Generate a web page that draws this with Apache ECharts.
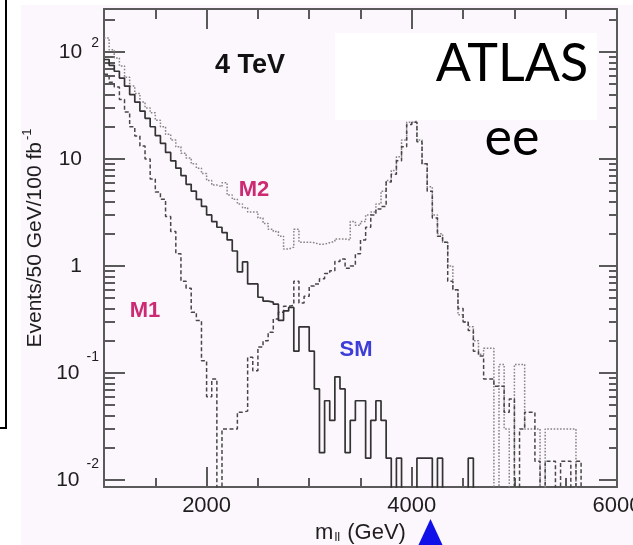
<!DOCTYPE html>
<html lang="en">
<head>
<meta charset="utf-8">
<title>ATLAS ee - 4 TeV</title>
<script src="https://cdn.jsdelivr.net/npm/echarts@6/dist/echarts.min.js"></script>
<style>
  html, body { margin: 0; padding: 0; background: #fff; }
  #main { width: 633px; height: 545px; }
</style>
</head>
<body>
<div id="main"></div>
<script>
// m_ll histogram, 50 GeV bins starting at 1000 GeV (events / 50 GeV / 100 fb^-1)
var binStart = 1000;
var binWidth = 50;

var smValues = [
  85, 75, 66, 57, 48, 40, 34, 28, 24, 20,
  16.5, 14, 11.5, 9.6, 8.2, 7, 5.8, 5, 4.2, 3.6,
  3, 2.6, 2.3, 2.05, 1.75, 1.38, 0.88, 1.09, 0.68, 0.68,
  0.51, 0.47, 0.46, 0.44, 0.31, 0.38, 0.41, 0.16, 0.27, 0.27,
  0.16, 0.071, 0.018, 0.055, 0.036, 0.092, 0.071, 0.018, 0.036, 0.055,
  0.055, 0.016, 0.036, 0.055, 0.036, 0.016, 0, 0.016, 0, 0,
  0, 0.016, 0.016, 0.016, 0, 0.016, 0, 0, 0, 0,
  0, 0.016, 0, 0, 0, 0, 0, 0, 0, 0,
  0, 0, 0, 0, 0, 0, 0, 0, 0, 0,
  0, 0, 0, 0, 0, 0, 0, 0, 0, 0
];

var m1Values = [
  62, 52, 47, 36, 27.5, 20, 16.4, 13.2, 10, 6.5,
  4.9, 4.2, 2.9, 2.1, 1.3, 0.72, 0.62, 0.37, 0.31, 0.13,
  0.06, 0.088, 0, 0.03, 0.03, 0.03, 0.043, 0.044, 0.14, 0.105,
  0.175, 0.2, 0.24, 0.32, 0.37, 0.42, 0.43, 0.72, 0.45, 0.52,
  0.65, 0.68, 0.76, 0.85, 0.9, 1.1, 1.16, 0.95, 1.0, 1.3,
  1.75, 2.3, 3.0, 3.4, 3.6, 6.1, 7.2, 9.6, 13, 21,
  22, 14.5, 9, 5, 2.8, 1.9, 1.67, 0.72, 0.6, 0.4,
  0.3, 0.25, 0.16, 0.144, 0.088, 0.088, 0.075, 0.075, 0.043, 0.057,
  0, 0.03, 0.043, 0.043, 0.015, 0, 0.015, 0.015, 0, 0.015,
  0.015, 0, 0.015, 0, 0, 0, 0, 0, 0, 0
];

var m2Values = [
  135, 105, 88, 74, 58, 48, 41, 34, 30, 27,
  23, 20, 17, 15, 13, 11.3, 10.2, 9, 8.2, 7.3,
  6.3, 5.7, 5.5, 6.0, 4.6, 4.2, 3.8, 3.5, 3.2, 3.2,
  2.8, 2.5, 2.2, 2.1, 1.9, 1.44, 1.5, 2.2, 1.67, 1.67,
  1.65, 1.6, 1.6, 1.65, 1.7, 1.79, 1.79, 1.75, 2.6, 2.4,
  2.6, 3.0, 3.2, 3.8, 5.0, 6.3, 7.8, 10.5, 15, 22,
  22.5, 15, 9, 5.5, 3.0, 2.0, 1.67, 1.0, 0.6, 0.35,
  0.3, 0.27, 0.2, 0.15, 0.17, 0.17, 0, 0.12, 0.03, 0,
  0.12, 0.12, 0.03, 0.03, 0.03, 0, 0.03, 0.03, 0.03, 0.03,
  0.03, 0.03, 0, 0, 0, 0, 0, 0, 0, 0
];

var xMajorTicks = [2000, 4000, 6000];
var xMinorTicks = [1500, 2500, 3000, 3500, 4500, 5000, 5500];
var yMajorTicks = [0.01, 0.1, 1, 10, 100];
var yMinorTicks = [
  0.02, 0.03, 0.04, 0.05, 0.06, 0.07, 0.08, 0.09,
  0.2, 0.3, 0.4, 0.5, 0.6, 0.7, 0.8, 0.9,
  2, 3, 4, 5, 6, 7, 8, 9,
  20, 30, 40, 50, 60, 70, 80, 90,
  200
];

var xMin = 1000, xMax = 6000;
var yMin = 0.0086, yMax = 252;
var emptyBin = 0.001; // below the axis, so empty bins drop off the bottom

function toSteps(values) {
  var pts = values.map(function (v, i) {
    return [binStart + i * binWidth, v > 0 ? v : emptyBin];
  });
  pts.push([binStart + values.length * binWidth, pts[pts.length - 1][1]]);
  return pts;
}

var FONT = 'Liberation Sans';
var axisColor = '#5a5a5a';

function yLabel(v) {
  var e = Math.round(Math.log(v) / Math.LN10);
  if (e === 0) return '{b|1}{pad|}';
  if (e === 1) return '{b|10}{pad|}';
  if (e > 1) return '{b|10}{sp|' + e + '}';
  return '{b|10}{sn|' + e + '}';
}

function xAxisDef(pos, ticks, len, withLine, withLabels) {
  return {
    type: 'value', position: pos, min: xMin, max: xMax,
    axisLine: { show: withLine, onZero: false, lineStyle: { color: axisColor, width: 2 } },
    axisTick: { show: true, inside: true, length: len, customValues: ticks,
      lineStyle: { color: axisColor, width: 2 } },
    axisLabel: withLabels ? {
      show: true, customValues: xMajorTicks, margin: 8,
      alignMinLabel: 'center', alignMaxLabel: 'center',
      formatter: function (v) { return String(v); },
      fontFamily: FONT, fontSize: 22, color: '#1e1e1e'
    } : { show: false },
    splitLine: { show: false }
  };
}

function yAxisDef(pos, ticks, len, withLine, withLabels) {
  return {
    type: 'log', logBase: 10, position: pos, min: yMin, max: yMax,
    axisLine: { show: withLine, lineStyle: { color: axisColor, width: 2 } },
    axisTick: { show: true, inside: true, length: len, customValues: ticks,
      lineStyle: { color: axisColor, width: 2 } },
    axisLabel: withLabels ? {
      show: true, customValues: yMajorTicks, margin: 5, formatter: yLabel,
      rich: {
        b: { fontFamily: FONT, fontSize: 21, color: '#1e1e1e' },
        sp: { fontFamily: FONT, fontSize: 14, color: '#1e1e1e', padding: [0, 0, 18, 9] },
        sn: { fontFamily: FONT, fontSize: 14, color: '#1e1e1e', padding: [0, 0, 32, 7] },
        pad: { width: 17 }
      }
    } : { show: false },
    splitLine: { show: false }
  };
}

var chart = echarts.init(document.getElementById('main'), null, { renderer: 'canvas' });

var option = {
  animation: false,
  backgroundColor: '#fcf7fc',
  grid: { left: 104, right: 16, top: 9, bottom: 58, containLabel: false, outerBoundsMode: 'none' },
  xAxis: [
    Object.assign(xAxisDef('bottom', xMajorTicks, 20, true, true), {
      name: '{t|m}{s|ll}{t| (GeV)}',
      nameLocation: 'middle', nameGap: 32,
      nameTextStyle: {
        rich: {
          t: { fontFamily: FONT, fontSize: 22, color: '#1e1e1e' },
          s: { fontFamily: FONT, fontSize: 13, color: '#1e1e1e', padding: [10, 1, 0, 1] }
        }
      }
    }),
    xAxisDef('bottom', xMinorTicks, 9, false, false),
    xAxisDef('top', xMajorTicks, 20, true, false),
    xAxisDef('top', xMinorTicks, 10, false, false)
  ],
  yAxis: [
    yAxisDef('left', yMajorTicks, 21, true, true),
    yAxisDef('left', yMinorTicks, 11, false, false),
    yAxisDef('right', yMajorTicks, 18, true, false),
    yAxisDef('right', yMinorTicks, 8, false, false)
  ],
  series: [
    {
      name: 'M2', type: 'line', step: 'end', data: toSteps(m2Values),
      showSymbol: false, symbol: 'none', clip: true, silent: true,
      lineStyle: { color: '#858585', width: 1.5, type: [1.6, 1.6] }
    },
    {
      name: 'M1', type: 'line', step: 'end', data: toSteps(m1Values),
      showSymbol: false, symbol: 'none', clip: true, silent: true,
      lineStyle: { color: '#474747', width: 1.5, type: [4, 2.5] }
    },
    {
      name: 'SM', type: 'line', step: 'end', data: toSteps(smValues),
      showSymbol: false, symbol: 'none', clip: true, silent: true,
      lineStyle: { color: '#333333', width: 1.7 }
    }
  ],
  graphic: [
    // slide margin
    { type: 'rect', z: 50, shape: { x: 0, y: 0, width: 21, height: 545 }, style: { fill: '#ffffff' } },
    { type: 'rect', z: 50, shape: { x: 0, y: 0, width: 633, height: 5 }, style: { fill: '#ffffff' } },
    { type: 'polyline', z: 51, shape: { points: [[6, 0], [6, 428], [0, 428]] },
      style: { stroke: '#000000', lineWidth: 2, fill: null } },
    // y axis title
    { type: 'text', z: 60, x: 35, y: 238, rotation: Math.PI / 2,
      style: {
        text: '{t|Events/50 GeV/100 fb}{s|-1}', align: 'center', verticalAlign: 'middle',
        rich: {
          t: { fontFamily: FONT, fontSize: 21, fill: '#1e1e1e' },
          s: { fontFamily: FONT, fontSize: 13, fill: '#1e1e1e', padding: [0, 0, 16, 2] }
        }
      } },
    // annotations
    { type: 'text', z: 60, x: 250, y: 66,
      style: { text: '4 TeV', font: 'bold 27px "Liberation Sans"', fill: '#111111',
        align: 'center', verticalAlign: 'middle' } },
    { type: 'text', z: 60, x: 254, y: 190,
      style: { text: 'M2', font: 'bold 22px "Liberation Sans"', fill: '#cc2a72',
        align: 'center', verticalAlign: 'middle' } },
    { type: 'text', z: 60, x: 145, y: 311,
      style: { text: 'M1', font: 'bold 22px "Liberation Sans"', fill: '#cc2a72',
        align: 'center', verticalAlign: 'middle' } },
    { type: 'text', z: 60, x: 356, y: 350,
      style: { text: 'SM', font: 'bold 22px "Liberation Sans"', fill: '#3d3dd8',
        align: 'center', verticalAlign: 'middle' } },
    // ATLAS ee box
    { type: 'rect', z: 70, shape: { x: 335, y: 33, width: 262, height: 87 }, style: { fill: '#ffffff' } },
    { type: 'text', z: 71, x: 512, y: 64,
      style: { text: 'ATLAS', font: '52px Lato', fill: '#000000',
        align: 'center', verticalAlign: 'middle' } },
    { type: 'text', z: 71, x: 512, y: 138,
      style: { text: 'ee', font: '52px Lato', fill: '#000000',
        align: 'center', verticalAlign: 'middle' } },
    // marker under the x axis
    { type: 'polygon', z: 60, shape: { points: [[418, 546], [443, 546], [430.5, 519]] },
      style: { fill: '#1010e8' } }
  ]
};

chart.setOption(option);
</script>
</body>
</html>
